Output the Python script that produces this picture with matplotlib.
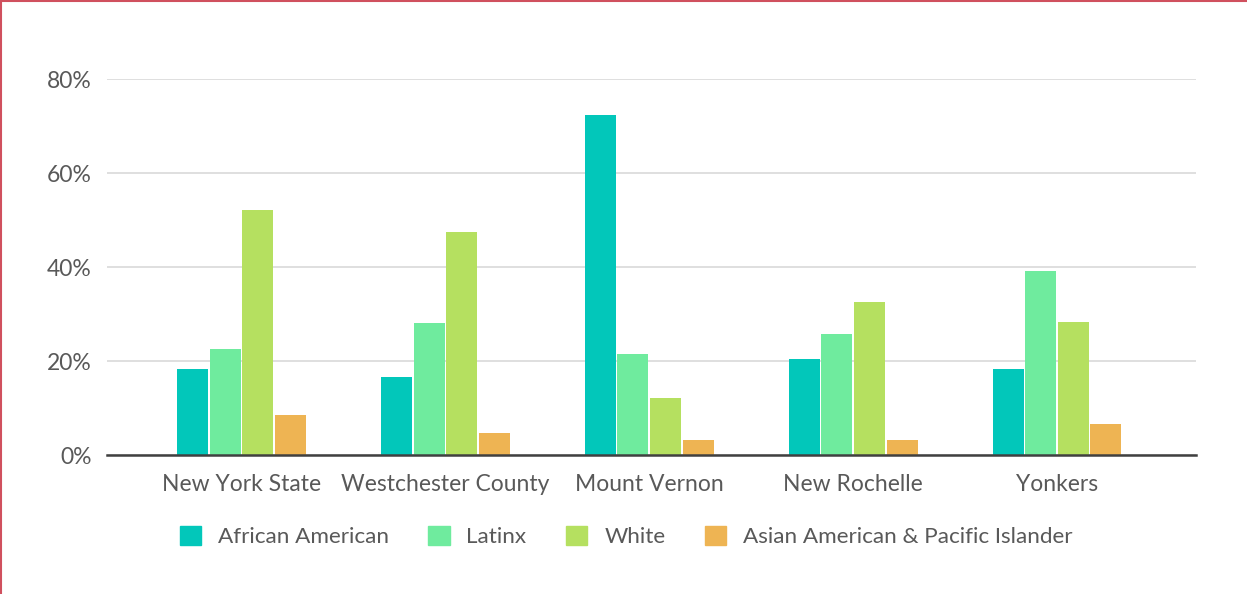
import matplotlib
matplotlib.use("Agg")
import matplotlib.pyplot as plt
import numpy as np
from matplotlib.lines import Line2D
from matplotlib.patches import Patch

categories = ["New York State", "Westchester County", "Mount Vernon", "New Rochelle", "Yonkers"]
series_names = ["African American", "Latinx", "White", "Asian American & Pacific Islander"]
african_american = [18.3, 16.6, 72.3, 20.4, 18.3]
latinx = [22.6, 28.1, 21.5, 25.7, 39.1]
white = [52.1, 47.4, 12.1, 32.6, 28.3]
asian_pi = [8.5, 4.7, 3.2, 3.2, 6.6]
colors = ["#02C7BA", "#6FEB9E", "#B5E060", "#EEB453"]

plt.rcParams['font.family'] = ['Lato', 'DejaVu Sans']
text_color = "#595959"

fig = plt.figure(figsize=(12.47, 5.94), dpi=100)
ax = fig.add_axes([0.0858, 0.234, 0.873, 0.633])

x = np.arange(len(categories))
w = 0.152
step = 0.16
all_series = [african_american, latinx, white, asian_pi]
for i, vals in enumerate(all_series):
    ax.bar(x + (i - 1.5) * step, vals, width=w, color=colors[i], zorder=3)

ax.set_xlim(-0.66, 4.68)
ax.set_ylim(0, 80)
ax.set_yticks([0, 20, 40, 60, 80])
ax.set_yticklabels(["0%", "20%", "40%", "60%", "80%"])
ax.set_xticks(x)
ax.set_xticklabels(categories)
ax.tick_params(axis='both', length=0, labelsize=16.5, colors=text_color)
ax.tick_params(axis='x', pad=14)
ax.tick_params(axis='y', pad=11)
ax.yaxis.grid(True, color="#D9D9D9", linewidth=1.2, zorder=0)
for s in ["top", "right", "left"]:
    ax.spines[s].set_visible(False)
ax.spines["bottom"].set_color("#404040")
ax.spines["bottom"].set_linewidth(1.8)
ax.spines["bottom"].set_zorder(4)

handles = [Patch(facecolor=c, edgecolor=c) for c in colors]
leg = fig.legend(handles, series_names, loc="center", bbox_to_anchor=(0.502, 0.097), ncol=4,
                 frameon=False, fontsize=16.2, handlelength=0.95, handleheight=0.95,
                 handletextpad=0.75, columnspacing=1.75)
for t in leg.get_texts():
    t.set_color(text_color)

# thin red border on top and left
fig.add_artist(Line2D([0, 1], [0.9985, 0.9985], color="#D0505E", linewidth=1.5, transform=fig.transFigure))
fig.add_artist(Line2D([0.001, 0.001], [0, 1], color="#D0505E", linewidth=1.5, transform=fig.transFigure))

plt.savefig("out.png", dpi=100)
